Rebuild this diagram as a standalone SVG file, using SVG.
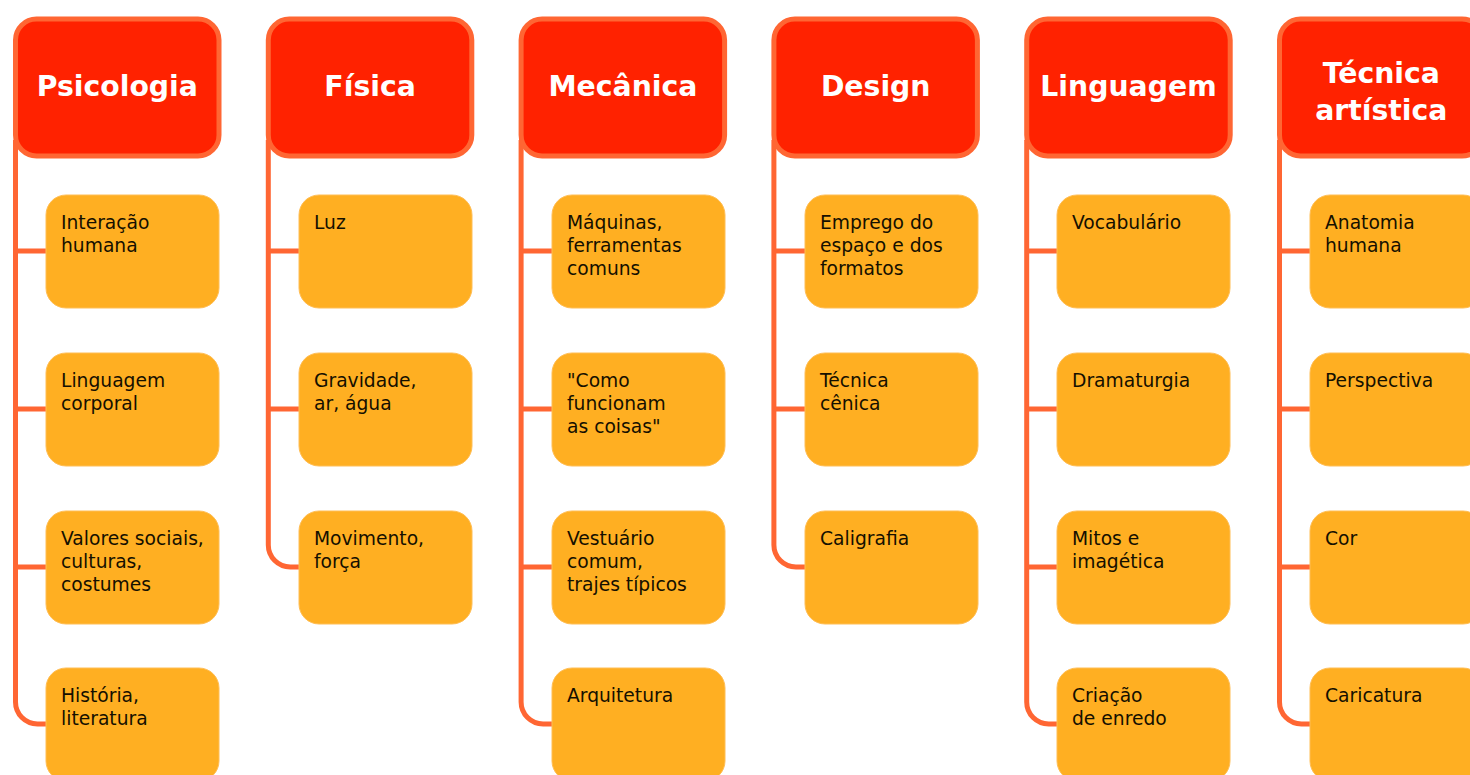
<svg xmlns="http://www.w3.org/2000/svg" width="1470" height="775" viewBox="0 0 1470 775">
<style>
.hd{fill:#FF2200;stroke:#FF6633;stroke-width:5}
.ht{font-family:"DejaVu Sans",Verdana,sans-serif;font-weight:bold;font-size:28.3px;fill:#fff;text-anchor:middle}
.ch{fill:#FFAF22;stroke:#FFBE55;stroke-width:1}
.ct{font-family:"DejaVu Sans",Verdana,sans-serif;font-size:18.7px;fill:#151000}
.cn{fill:none;stroke:#FF6633;stroke-width:5}
</style>
<rect width="1470" height="775" fill="#fff"/>
<g id="connectors">
<path class="cn" d="M15.5 140V702A22 22 0 0 0 37.5 724H47M15.5 251H47M15.5 409H47M15.5 567H47"/>
<path class="cn" d="M268.3 140V545A22 22 0 0 0 290.3 567H300M268.3 251H300M268.3 409H300"/>
<path class="cn" d="M521.1 140V702A22 22 0 0 0 543.1 724H553M521.1 251H553M521.1 409H553M521.1 567H553"/>
<path class="cn" d="M773.9 140V545A22 22 0 0 0 795.9 567H806M773.9 251H806M773.9 409H806"/>
<path class="cn" d="M1026.7 140V702A22 22 0 0 0 1048.7 724H1058M1026.7 251H1058M1026.7 409H1058M1026.7 567H1058"/>
<path class="cn" d="M1279.5 140V702A22 22 0 0 0 1301.5 724H1311M1279.5 251H1311M1279.5 409H1311M1279.5 567H1311"/>
</g>
<g id="psicologia"><rect class="hd" x="15.5" y="19" width="203.5" height="137" rx="21"/><text class="ht" x="117.3" y="96">Psicologia</text></g>
<g id="fisica"><rect class="hd" x="268.3" y="19" width="203.5" height="137" rx="21"/><text class="ht" x="370.1" y="96">Física</text></g>
<g id="mecanica"><rect class="hd" x="521.1" y="19" width="203.5" height="137" rx="21"/><text class="ht" x="622.9" y="96">Mecânica</text></g>
<g id="design"><rect class="hd" x="773.9" y="19" width="203.5" height="137" rx="21"/><text class="ht" x="875.7" y="96">Design</text></g>
<g id="linguagem"><rect class="hd" x="1026.7" y="19" width="203.5" height="137" rx="21"/><text class="ht" x="1128.5" y="96">Linguagem</text></g>
<g id="tecnica-artistica"><rect class="hd" x="1279.5" y="19" width="203.5" height="137" rx="21"/><text class="ht" x="1381.3" y="83">Técnica</text><text class="ht" x="1381.3" y="120">artística</text></g>

<g id="c1-1"><rect class="ch" x="46" y="195" width="173" height="113" rx="20"/><text class="ct" x="61" y="229">Interação<tspan x="61" dy="23">humana</tspan></text></g>
<g id="c1-2"><rect class="ch" x="46" y="353" width="173" height="113" rx="20"/><text class="ct" x="61" y="387">Linguagem<tspan x="61" dy="23">corporal</tspan></text></g>
<g id="c1-3"><rect class="ch" x="46" y="511" width="173" height="113" rx="20"/><text class="ct" x="61" y="545">Valores sociais,<tspan x="61" dy="23">culturas,</tspan><tspan x="61" dy="23">costumes</tspan></text></g>
<g id="c1-4"><rect class="ch" x="46" y="668" width="173" height="113" rx="20"/><text class="ct" x="61" y="702">História,<tspan x="61" dy="23">literatura</tspan></text></g>

<g id="c2-1"><rect class="ch" x="299" y="195" width="173" height="113" rx="20"/><text class="ct" x="314" y="229">Luz</text></g>
<g id="c2-2"><rect class="ch" x="299" y="353" width="173" height="113" rx="20"/><text class="ct" x="314" y="387">Gravidade,<tspan x="314" dy="23">ar, água</tspan></text></g>
<g id="c2-3"><rect class="ch" x="299" y="511" width="173" height="113" rx="20"/><text class="ct" x="314" y="545">Movimento,<tspan x="314" dy="23">força</tspan></text></g>

<g id="c3-1"><rect class="ch" x="552" y="195" width="173" height="113" rx="20"/><text class="ct" x="567" y="229">Máquinas,<tspan x="567" dy="23">ferramentas</tspan><tspan x="567" dy="23">comuns</tspan></text></g>
<g id="c3-2"><rect class="ch" x="552" y="353" width="173" height="113" rx="20"/><text class="ct" x="567" y="387">"Como<tspan x="567" dy="23">funcionam</tspan><tspan x="567" dy="23">as coisas"</tspan></text></g>
<g id="c3-3"><rect class="ch" x="552" y="511" width="173" height="113" rx="20"/><text class="ct" x="567" y="545">Vestuário<tspan x="567" dy="23">comum,</tspan><tspan x="567" dy="23">trajes típicos</tspan></text></g>
<g id="c3-4"><rect class="ch" x="552" y="668" width="173" height="113" rx="20"/><text class="ct" x="567" y="702">Arquitetura</text></g>

<g id="c4-1"><rect class="ch" x="805" y="195" width="173" height="113" rx="20"/><text class="ct" x="820" y="229">Emprego do<tspan x="820" dy="23">espaço e dos</tspan><tspan x="820" dy="23">formatos</tspan></text></g>
<g id="c4-2"><rect class="ch" x="805" y="353" width="173" height="113" rx="20"/><text class="ct" x="820" y="387">Técnica<tspan x="820" dy="23">cênica</tspan></text></g>
<g id="c4-3"><rect class="ch" x="805" y="511" width="173" height="113" rx="20"/><text class="ct" x="820" y="545">Caligrafia</text></g>

<g id="c5-1"><rect class="ch" x="1057" y="195" width="173" height="113" rx="20"/><text class="ct" x="1072" y="229">Vocabulário</text></g>
<g id="c5-2"><rect class="ch" x="1057" y="353" width="173" height="113" rx="20"/><text class="ct" x="1072" y="387">Dramaturgia</text></g>
<g id="c5-3"><rect class="ch" x="1057" y="511" width="173" height="113" rx="20"/><text class="ct" x="1072" y="545">Mitos e<tspan x="1072" dy="23">imagética</tspan></text></g>
<g id="c5-4"><rect class="ch" x="1057" y="668" width="173" height="113" rx="20"/><text class="ct" x="1072" y="702">Criação<tspan x="1072" dy="23">de enredo</tspan></text></g>

<g id="c6-1"><rect class="ch" x="1310" y="195" width="173" height="113" rx="20"/><text class="ct" x="1325" y="229">Anatomia<tspan x="1325" dy="23">humana</tspan></text></g>
<g id="c6-2"><rect class="ch" x="1310" y="353" width="173" height="113" rx="20"/><text class="ct" x="1325" y="387">Perspectiva</text></g>
<g id="c6-3"><rect class="ch" x="1310" y="511" width="173" height="113" rx="20"/><text class="ct" x="1325" y="545">Cor</text></g>
<g id="c6-4"><rect class="ch" x="1310" y="668" width="173" height="113" rx="20"/><text class="ct" x="1325" y="702">Caricatura</text></g>
</svg>
